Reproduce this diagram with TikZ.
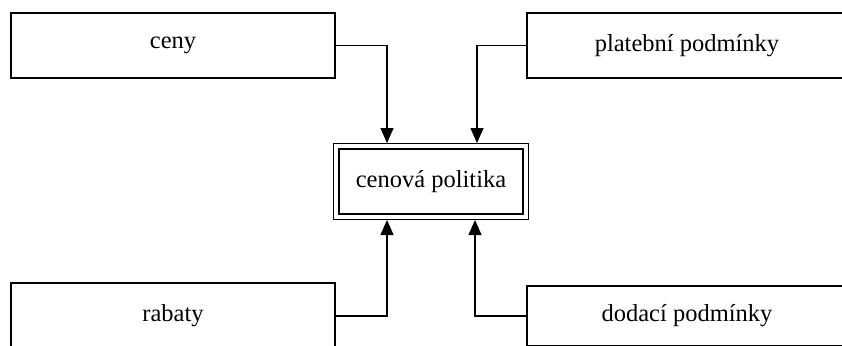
\documentclass[tikz,border=0pt]{standalone}
\usepackage{fontspec}
\setmainfont{Liberation Serif}
\usetikzlibrary{arrows.meta}
\begin{document}
\begin{tikzpicture}[x=1pt,y=-1pt,
  box/.style={draw, line width=1.4pt, rectangle, inner sep=0pt, outer sep=0pt,
    font=\fontsize{24.5}{29}\selectfont},
  centre/.style={draw, line width=1.3pt, double, double distance=4pt, rectangle,
    inner sep=0pt, outer sep=3.3pt, minimum width=189.4pt, minimum height=70.4pt,
    font=\fontsize{24.5}{29}\selectfont},
  conn/.style={line width=1.3pt, -{Triangle[length=15pt,width=13pt]}}]
\useasboundingbox (0,0) rectangle (842,345);
\clip (0,0) rectangle (842,345);
\fill[white] (0,0) rectangle (842,345);
\node[box, minimum width=324pt, minimum height=65pt] (ceny) at (173,45.5) {ceny};
\node[box, minimum width=320pt, minimum height=65pt] (plat) at (687,45.5) {platební podmínky};
\node[box, minimum width=324pt, minimum height=66pt] (rab) at (173,316) {rabaty};
\node[box, minimum width=320pt, minimum height=60pt] (dod) at (687,316) {dodací podmínky};
\node[centre] (cp) at (431,181.5) {cenová politika};
\draw[conn] (ceny.east) -| ([xshift=-44pt]cp.north);
\draw[conn] (plat.west) -| ([xshift=46pt]cp.north);
\draw[conn] (rab.east) -| ([xshift=-44pt]cp.south);
\draw[conn] (dod.west) -| ([xshift=44pt]cp.south);
\end{tikzpicture}
\end{document}
